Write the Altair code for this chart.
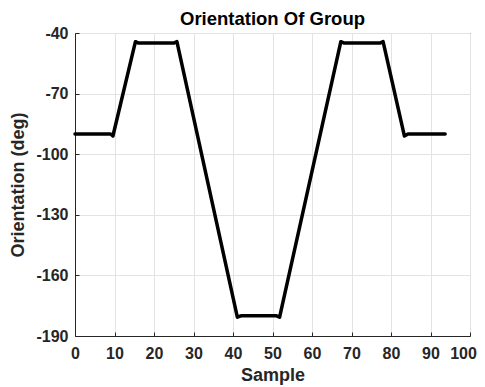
import altair as alt
import pandas as pd

sample = [0, 9, 9.6, 15.3, 16.1, 25.0, 25.8, 41.1, 42.0, 51.0, 51.8, 67.3, 68.2, 77.2, 78.0, 83.4, 84.3, 93.7]
orientation = [-90, -90, -91, -44.3, -45, -45, -44.3, -180.7, -180, -180, -180.7, -44.3, -45, -45, -44.3, -91, -90, -90]

df = pd.DataFrame({"Sample": sample, "Orientation": orientation, "order": list(range(len(sample)))})

font = "Liberation Sans"
axis_color = "#262626"

chart = alt.Chart(df).mark_line(color="black", strokeWidth=3.5, strokeJoin="round", strokeCap="round").encode(
    x=alt.X("Sample:Q", scale=alt.Scale(domain=[0, 100], nice=False, zero=False),
            axis=alt.Axis(values=list(range(0, 101, 10)), title="Sample", grid=True,
                          labelExpr="toString(datum.value)",
                          labelOffset={"condition": {"test": "datum.value == 100", "value": -7}, "value": 0},
                          labelFontSize=16, labelFontWeight="bold", labelColor=axis_color,
                          titleFontSize=18, titleFontWeight="bold", titleColor=axis_color,
                          labelPadding=13, titlePadding=5,
                          tickSize=alt.ExprRef("-4"), tickColor=axis_color,
                          domainColor=axis_color, labelFlush=False, labelBound=False)),
    y=alt.Y("Orientation:Q", scale=alt.Scale(domain=[-190, -40], nice=False, zero=False),
            axis=alt.Axis(values=list(range(-190, -39, 30)), title="Orientation (deg)", grid=True,
                          labelExpr="toString(datum.value)",
                          labelFontSize=16, labelFontWeight="bold", labelColor=axis_color,
                          titleFontSize=18, titleFontWeight="bold", titleColor=axis_color,
                          labelPadding=11, titlePadding=8,
                          tickSize=alt.ExprRef("-4"), tickColor=axis_color,
                          domainColor=axis_color, labelFlush=False)),
    order="order:Q",
).properties(
    width=395, height=303,
    title=alt.TitleParams("Orientation Of Group", fontSize=18.5, fontWeight="bold", font=font,
                          color="black", offset=1, dy=4, anchor="middle"),
    autosize=alt.AutoSizeParams(type="none"),
    padding={"left": 67, "top": 25, "right": 7, "bottom": 51},
).configure(font=font).configure_axis(
    gridColor="#e3e3e3", gridWidth=1, labelFont=font, titleFont=font
).configure_view(stroke=axis_color, strokeWidth=1)

chart.save("out.html", embed_options={"renderer": "svg", "actions": False})
